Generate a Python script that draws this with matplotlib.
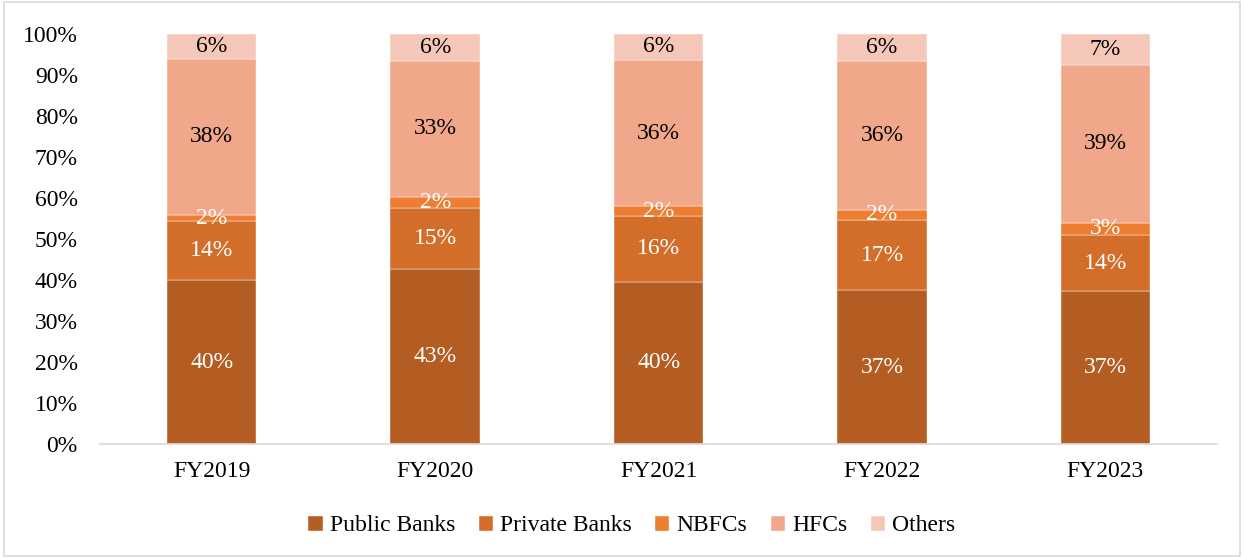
import numpy as np
import matplotlib.pyplot as plt
from matplotlib.patches import Rectangle

plt.rcParams['font.family'] = ['Liberation Serif', 'DejaVu Serif']

years = ['FY2019', 'FY2020', 'FY2021', 'FY2022', 'FY2023']
series = ['Public Banks', 'Private Banks', 'NBFCs', 'HFCs', 'Others']

# shares in %
public_banks = [40.0, 42.6, 39.6, 37.5, 37.2]
private_banks = [14.3, 15.0, 16.0, 17.2, 13.9]
nbfcs = [1.5, 2.6, 2.4, 2.5, 2.9]
hfcs = [38.2, 33.3, 35.7, 36.2, 38.5]
others = [6.0, 6.5, 6.3, 6.6, 7.5]

# printed labels
public_lbl = [40, 43, 40, 37, 37]
private_lbl = [14, 15, 16, 17, 14]
nbfc_lbl = [2, 2, 2, 2, 3]
hfc_lbl = [38, 33, 36, 36, 39]
others_lbl = [6, 6, 6, 6, 7]

colors = ['#B35D22', '#D36E2A', '#ED7D31', '#F0A78A', '#F5C7B8']
text_colors = ['white', 'white', 'white', 'black', 'black']

data = [public_banks, private_banks, nbfcs, hfcs, others]
labels = [public_lbl, private_lbl, nbfc_lbl, hfc_lbl, others_lbl]

fs = 17

fig = plt.figure(figsize=(12.44, 5.58), dpi=100)
ax = fig.add_axes([0.0804, 0.2043, 0.898, 0.7347])

x = np.arange(len(years))
bottom = np.zeros(len(years))
for vals, lbls, name, c, tc in zip(data, labels, series, colors, text_colors):
    vals = np.array(vals)
    ax.bar(x, vals, 0.4, bottom=bottom, color=c, label=name,
           edgecolor='white', linewidth=0.3)
    for i in range(len(years)):
        ax.text(x[i], bottom[i] + vals[i] / 2, '%d%%' % lbls[i],
                ha='center', va='center', color=tc, fontsize=fs)
    bottom += vals

ax.set_xlim(-0.5, len(years) - 0.5)
ax.set_ylim(0, 100)
ax.set_yticks(np.arange(0, 101, 10))
ax.set_yticklabels(['%d%%' % v for v in range(0, 101, 10)], fontsize=fs)
ax.set_xticks(x)
ax.set_xticklabels(years, fontsize=fs)
ax.tick_params(length=0)
ax.tick_params(axis='x', pad=12)
ax.tick_params(axis='y', pad=16)
for s in ['top', 'right', 'left']:
    ax.spines[s].set_visible(False)
ax.spines['bottom'].set_color('#D9D9D9')
ax.spines['bottom'].set_linewidth(1.2)

ax.legend(loc='center', bbox_to_anchor=(0.476, -0.2), ncol=5, frameon=False,
          fontsize=fs, handlelength=0.6, handleheight=0.6, handletextpad=0.3,
          columnspacing=1.0)

fig.patches.append(Rectangle((0.003, 0.003), 0.994, 0.994, transform=fig.transFigure,
                             fill=False, edgecolor='#D9D9D9', linewidth=1.2))

fig.savefig('out.png', dpi=100)
